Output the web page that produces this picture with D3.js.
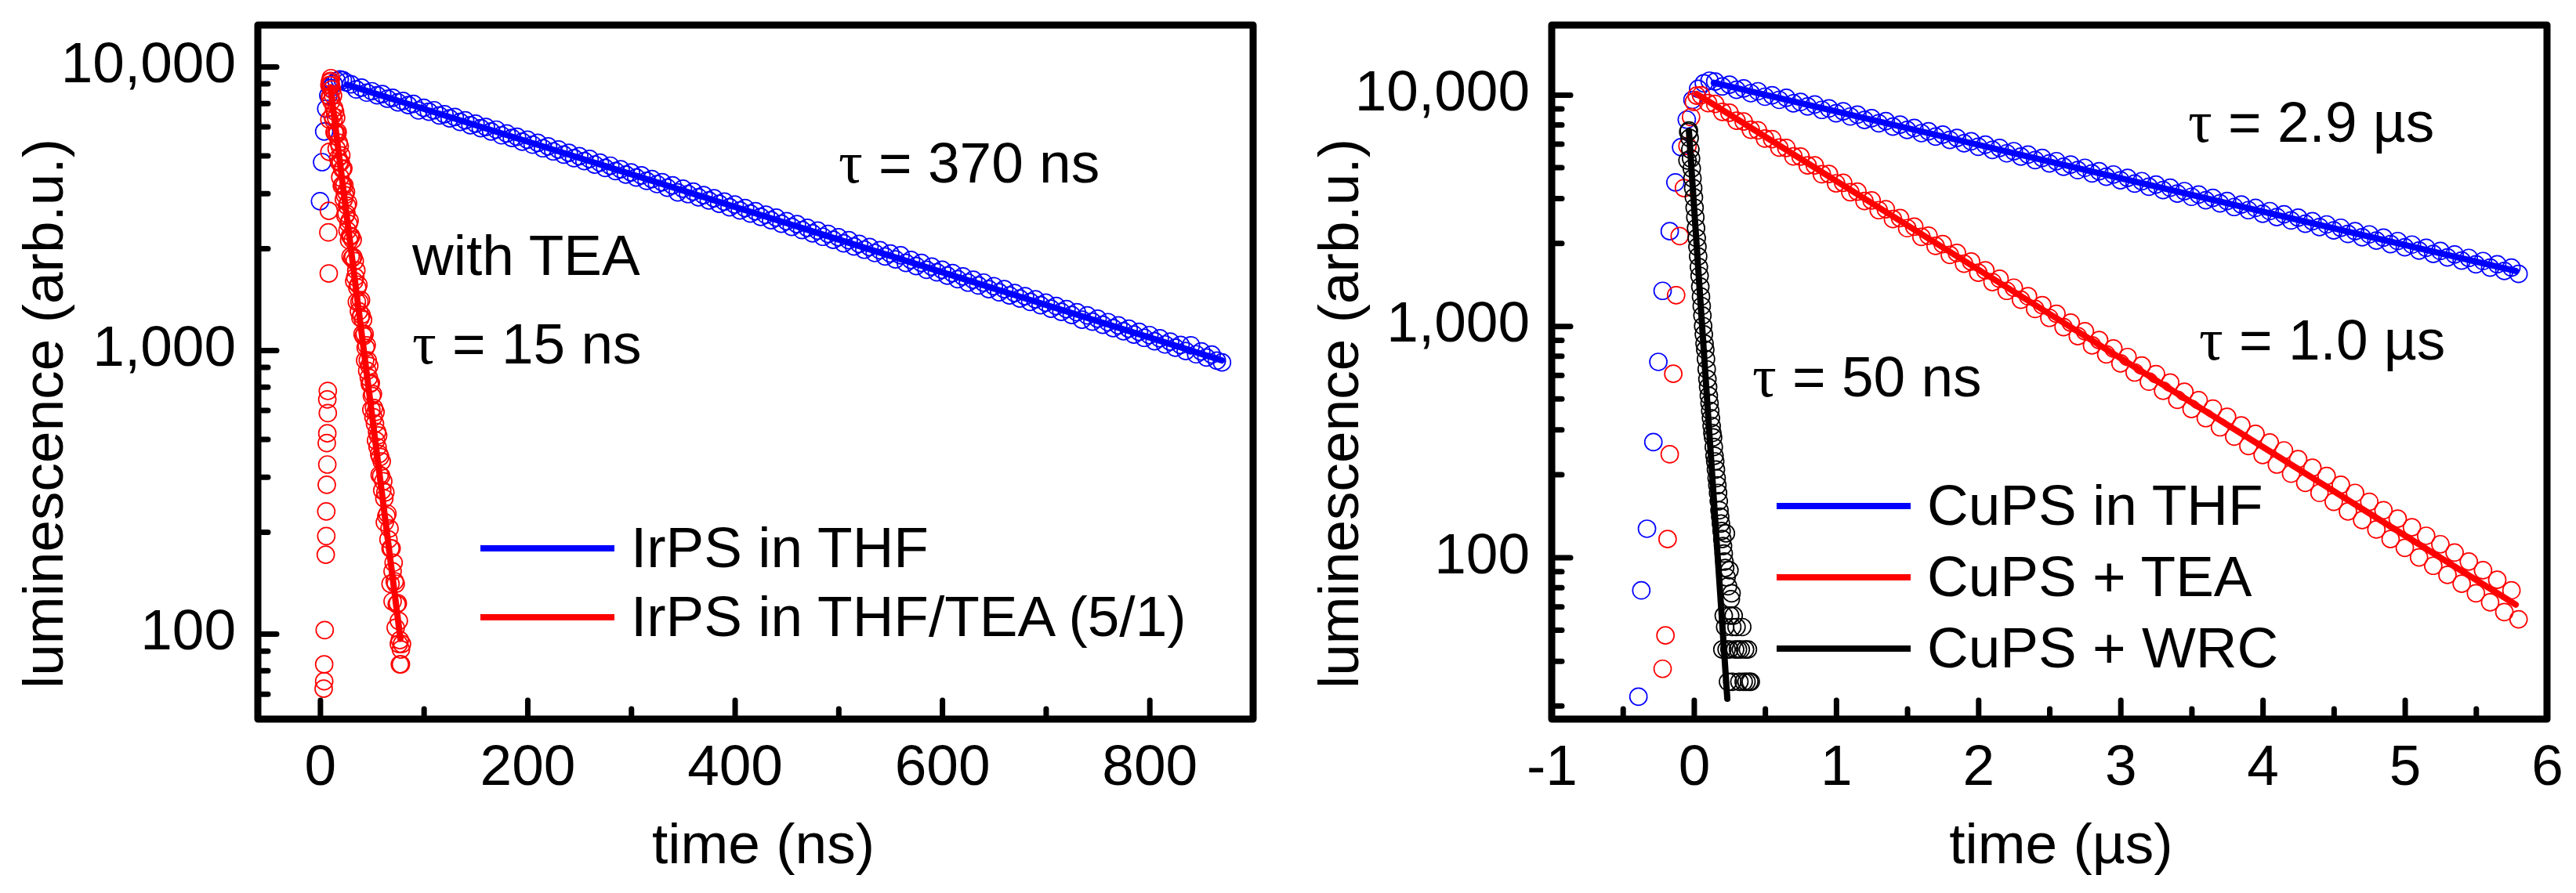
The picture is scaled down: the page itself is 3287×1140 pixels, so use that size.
<!DOCTYPE html>
<html><head><meta charset="utf-8">
<script src="https://cdn.jsdelivr.net/npm/d3@7"></script>
<style>html,body{margin:0;padding:0;background:#fff;}svg{display:block}</style>
</head><body><svg id="c" width="3287" height="1140"></svg>
<script>
// ---------------- DATA ----------------
// Left panel: time in ns, luminescence in arb.u.
const leftXTicks = [0, 200, 400, 600, 800];
const leftXMinor = [100, 300, 500, 700];
const leftYTicks = [100, 1000, 10000];
const leftYMinor = [61.4, 74.3, 87.1, 228.6, 357.1, 485.7, 614.3, 742.9, 871.4, 2286, 3571, 4857, 6143, 7429, 8714];

const irThf = [[0,3350],[2,4600],[4,5900],[6,7100],[8,7900],[10,8400],[13,8700],[16,8900],[19,9000],[22,8950],[25,8800],
[30,8650],[35,8300],[40,8420],[45,8090],[50,8180],[55,7920],[60,7990],[65,7700],[70,7760],[75,7480],[80,7560],[85,7310],[90,7380],[95,7000],[100,7150],[105,6930],[110,7010],[115,6720],[120,6790],[125,6560],[130,6640],[135,6380],[140,6460],[145,6210],[150,6290],[155,6060],[160,6120],[165,5900],[170,5990],[175,5720],[180,5810],[185,5600],[190,5650],[195,5430],[200,5520],[205,5300],[210,5380],[215,5150],[220,5230],[225,5020],[230,5100],[235,4890],[240,4960],[245,4750],[250,4830],[255,4640],[260,4720],[265,4510],[270,4580],[275,4390],[280,4470],[285,4280],[290,4340],[295,4160],[300,4230],[305,4060],[310,4130],[315,3950],[320,4010],[325,3850],[330,3910],[335,3740],[340,3810],[345,3600],[350,3710],[355,3550],[360,3620],[365,3460],[370,3520],[375,3370],[380,3430],[385,3280],[390,3340],[395,3190],[400,3260],[405,3110],[410,3170],[415,3030],[420,3090],[425,2950],[430,3000],[435,2870],[440,2930],[445,2790],[450,2850],[455,2720],[460,2780],[465,2650],[470,2700],[475,2580],[480,2640],[485,2510],[490,2570],[495,2450],[500,2500],[505,2380],[510,2440],[515,2320],[520,2370],[525,2260],[530,2310],[535,2200],[540,2250],[545,2140],[550,2190],[555,2090],[560,2160],[565,2030],[570,2080],[575,1980],[580,2030],[585,1920],[590,1970],[595,1880],[600,1920],[605,1830],[610,1870],[615,1780],[620,1820],[625,1730],[630,1770],[635,1690],[640,1730],[645,1640],[650,1680],[655,1600],[660,1640],[665,1560],[670,1590],[675,1520],[680,1550],[685,1480],[690,1510],[695,1440],[700,1470],[705,1400],[710,1430],[715,1365],[720,1395],[725,1330],[730,1360],[735,1280],[740,1325],[745,1260],[750,1290],[755,1228],[760,1255],[765,1195],[770,1222],[775,1165],[780,1190],[785,1135],[790,1160],[795,1105],[800,1130],[805,1075],[810,1100],[815,1047],[820,1072],[825,1020],[830,1043],[835,993],[840,1040],[845,967],[850,990],[855,942],[860,965],[865,918],[870,905]];
const irThfFit = [[26,8630],[870,920]];

const irTea = [[3.5,64],[4,68],[4,78],[4.5,103],[5.5,190],[6,221],[6,270],[6.5,335],[7,395],[6.5,470],[7,509],[7.5,600],[7,670],[7.5,718],[8.4,1864],[8,2600],[8.5,3100],[9,5000],[9,6500],[9.5,7800],[10,8900],[10.5,9100],
[9,8600],[9.5,8800],[10,7800],[10.5,8600],[11,7550],[11.5,8300],[12,6700],[12.5,7900],[13,6470],[13.5,7130],[14,5860],[14.5,6930],[15,5790],[15.5,6600],[16,5130],[16.5,5790],[17,5870],[17.5,4750],[18,5390],[18.5,4590],[19,5230],[19.5,4070],[20,4590],[20.5,4860],[21,3800],[21.5,4350],[22,3830],[22.5,4370],[23,3400],[23.5,3810],[24,3520],[24.5,2980],[25,3610],[25.5,3030],[26,3230],[26.5,2640],[27,3300],[27.5,2790],[28,2440],[28.5,2860],[29,2530],[29.5,2140],[30,2520],[31,2110],[31.5,2450],[32,2130],[33,1750],[33.5,2060],[34,1810],[35,1910],[35.5,1480],[36,1660],[37,1700],[37.5,1370],[38,1480],[39,1300],[39.5,1500],[40,1330],[41,1140],[41.5,1280],[42,1120],[43,1140],[43.5,920],[44,1020],[45,1040],[45.5,845],[46,920],[47,800],[47.5,880],[48,760],[49,765],[49.5,617],[50,690],[51,700],[51.5,580],[52,625],[53,550],[53.5,605],[54,480],[55,515],[55.5,455],[56,500],[57,430],[57.5,363],[58,420],[59,360],[59.5,405],[60,320],[61,345],[62,300],[62.5,247],[63,315],[64,260],[65,265],[66,215],[67,235],[68,200],[69,200],[70,166],[71,178],[72,153],[73,150],[74,127],[75,128],[76,111],[77,95],[78,88],
[77,78],[78,78],[79,92],[76,92],[73,105],[70,130],[68,150]];
const irTeaFit = [[10,8450],[77.5,96]];

// Right panel: time in µs
const rightXTicks = [-1, 0, 1, 2, 3, 4, 5, 6];
const rightXMinor = [-0.5, 0.5, 1.5, 2.5, 3.5, 4.5, 5.5];
const rightYTicks = [100, 1000, 10000];
const rightYMinor = [22.9, 35.7, 48.6, 61.4, 74.3, 87.1, 228.6, 357.1, 485.7, 614.3, 742.9, 871.4, 2286, 3571, 4857, 6143, 7429, 8714];

const cuThf = [[-0.39,25],[-0.37,72],[-0.33,133],[-0.285,315],[-0.25,700],[-0.22,1420],[-0.17,2570],[-0.13,4180],[-0.09,5930],[-0.05,7800],[-0.01,9500],[0.03,10600],[0.07,11200],[0.11,11500],
[0.15,11400],[0.2,10850],[0.25,11050],[0.3,10500],[0.35,10650],[0.4,10150],[0.45,10350],[0.5,9800],[0.55,9950],[0.6,9500],[0.65,9700],[0.7,9180],[0.75,9300],[0.8,8900],[0.85,9080],[0.9,8600],[0.95,8720],[1,8310],[1.05,8480],[1.1,8050],[1.15,8200],[1.2,7780],[1.25,7920],[1.3,7530],[1.35,7690],[1.4,7280],[1.45,7420],[1.5,7040],[1.55,7180],[1.6,6820],[1.65,6950],[1.7,6590],[1.75,6720],[1.8,6380],[1.85,6500],[1.9,6170],[1.95,6290],[2,5960],[2.05,6080],[2.1,5770],[2.15,5890],[2.2,5580],[2.25,5700],[2.3,5400],[2.35,5510],[2.4,5220],[2.45,5330],[2.5,5050],[2.55,5160],[2.6,4880],[2.65,4990],[2.7,4720],[2.75,4830],[2.8,4570],[2.85,4670],[2.9,4420],[2.95,4520],[3,4270],[3.05,4370],[3.1,4130],[3.15,4230],[3.2,4000],[3.25,4090],[3.3,3870],[3.35,3960],[3.4,3740],[3.45,3830],[3.5,3620],[3.55,3700],[3.6,3500],[3.65,3580],[3.7,3390],[3.75,3470],[3.8,3270],[3.85,3350],[3.9,3170],[3.95,3240],[4,3060],[4.05,3140],[4.1,2960],[4.15,3040],[4.2,2860],[4.25,2940],[4.3,2770],[4.35,2840],[4.4,2680],[4.45,2750],[4.5,2590],[4.55,2660],[4.6,2500],[4.65,2570],[4.7,2420],[4.75,2490],[4.8,2340],[4.85,2410],[4.9,2260],[4.95,2330],[5,2190],[5.05,2250],[5.1,2120],[5.15,2180],[5.2,2050],[5.25,2110],[5.3,1980],[5.35,2040],[5.4,1920],[5.45,1970],[5.5,1850],[5.55,1910],[5.6,1790],[5.65,1850],[5.7,1730],[5.75,1790],[5.8,1680]];
const cuThfFit = [[0.14,11270],[5.78,1730]];

const cuTea = [[-0.22,33],[-0.2,46],[-0.185,120],[-0.17,279],[-0.145,622],[-0.125,1360],[-0.1,2450],[-0.07,3950],[-0.045,6000],[-0.02,8000],[0,9300],[0.02,9900],
[0.05,9950],[0.1,9200],[0.15,9120],[0.2,8430],[0.25,8360],[0.3,7720],[0.35,7660],[0.4,7060],[0.45,7020],[0.5,6460],[0.55,6430],[0.6,5910],[0.65,5890],[0.7,5410],[0.75,5400],[0.8,4950],[0.85,4950],[0.9,4530],[0.95,4540],[1,4140],[1.05,4160],[1.1,3790],[1.15,3810],[1.2,3470],[1.25,3490],[1.3,3170],[1.35,3200],[1.4,2900],[1.45,2930],[1.5,2650],[1.55,2690],[1.6,2430],[1.65,2460],[1.7,2220],[1.75,2260],[1.8,2030],[1.85,2070],[1.9,1860],[1.95,1900],[2,1700],[2.05,1740],[2.1,1550],[2.15,1600],[2.2,1420],[2.25,1465],[2.3,1300],[2.35,1345],[2.4,1185],[2.45,1230],[2.5,1085],[2.55,1130],[2.6,990],[2.65,1035],[2.7,905],[2.75,950],[2.8,825],[2.85,870],[2.9,755],[2.95,800],[3,690],[3.05,735],[3.1,630],[3.15,675],[3.2,575],[3.25,620],[3.3,525],[3.35,570],[3.4,480],[3.45,520],[3.5,438],[3.55,478],[3.6,400],[3.65,440],[3.7,365],[3.75,405],[3.8,333],[3.85,372],[3.9,303],[3.95,342],[4,277],[4.05,314],[4.1,252],[4.15,290],[4.2,230],[4.25,266],[4.3,210],[4.35,244],[4.4,190],[4.45,225],[4.5,174],[4.55,206],[4.6,158],[4.65,190],[4.7,145],[4.75,174],[4.8,132],[4.85,160],[4.9,120],[4.95,147],[5,110],[5.05,135],[5.1,100],[5.15,124],[5.2,92],[5.25,114],[5.3,84],[5.35,105],[5.4,77],[5.45,96],[5.5,70],[5.55,88],[5.6,64],[5.65,80],[5.7,58],[5.75,72],[5.8,54]];
const cuTeaFit = [[0.02,10070],[5.78,62.5]];

const cuWrc = [[-0.045,5200],[-0.04,6900],[-0.035,7000],[-0.03,6500],[-0.025,5800],[-0.02,5300],[-0.015,4800],[-0.01,4350],[-0.005,3950],[0,3600],[0.005,3250],[0.01,2950],[0.015,2650],[0.02,2400],[0.025,2200],[0.03,2000],[0.035,1800],[0.04,1650],[0.045,1480],[0.05,1340],[0.055,1220],[0.06,1110],[0.065,1000],[0.07,920],[0.075,840],[0.08,790],[0.085,720],[0.09,650],[0.095,590],[0.1,545],[0.105,500],[0.11,465],[0.115,430],[0.12,400],[0.125,370],[0.13,345],[0.135,330],[0.14,300],[0.145,275],[0.15,260],[0.155,240],[0.16,220],[0.165,205],[0.17,190],[0.175,175],[0.18,160],[0.185,150],[0.19,140],[0.195,130],[0.2,120],[0.205,112],[0.21,104],[0.215,96],[0.22,90],[0.225,127],[0.23,82],[0.24,75],[0.25,88],[0.255,56],[0.26,66],[0.265,70],[0.27,50],[0.28,56],[0.29,40],[0.3,50],[0.31,40],[0.32,29],[0.33,40],[0.34,50],[0.35,29],[0.36,40],[0.37,29],[0.38,40],[0.39,29],[0.4,29],[0.22,50],[0.23,40],[0.24,29],[0.25,40],[0.27,29],[0.21,56],[0.2,40]];
const cuWrcFit = [[-0.035,6980],[0.235,24.5]];

// ---------------- DRAWING ----------------
const W = 3287, H = 1140;
const FONT = "'Liberation Sans', Arial, Helvetica, sans-serif";
const SERIF = "'Liberation Serif', 'Times New Roman', serif";
const FS = 73;
const svg = d3.select('#c');
svg.append('rect').attr('width', W).attr('height', H).attr('fill', '#fff');

function styleAxis(sel) {
  sel.select('.domain').remove();
  sel.selectAll('.tick line').attr('stroke', '#000').attr('stroke-width', 7).attr('stroke-linecap', 'round');
  sel.selectAll('.tick text').attr('font-family', FONT).attr('font-size', FS).attr('fill', '#000');
}

function txt(x, y, s, anchor) {
  const t = svg.append('text').attr('x', x).attr('y', y).attr('font-family', FONT)
    .attr('font-size', FS).attr('fill', '#000').attr('text-anchor', anchor || 'start');
  if (s.startsWith('τ')) {
    t.append('tspan').attr('font-family', SERIF).attr('font-size', FS * 1.05).text('τ');
    t.append('tspan').text(s.slice(1));
  } else {
    t.text(s);
  }
  return t;
}

function drawPanel(cfg) {
  const { x0, x1, y0, y1 } = cfg.frame;
  const x = d3.scaleLinear().domain(cfg.xDomain).range([x0, x1]);
  const y = d3.scaleLog().domain(cfg.yDomain).range([y1, y0]);
  const clipId = 'clip' + cfg.id;
  svg.append('clipPath').attr('id', clipId).append('rect')
    .attr('x', x0).attr('y', y0).attr('width', x1 - x0).attr('height', y1 - y0);
  const plot = svg.append('g').attr('clip-path', `url(#${clipId})`);
  const line = d3.line().x(d => x(d[0])).y(d => y(d[1]));
  cfg.series.forEach(s => {
    plot.append('g').selectAll('circle').data(s.points).join('circle')
      .attr('cx', d => x(d[0])).attr('cy', d => y(d[1])).attr('r', 11)
      .attr('fill', 'none').attr('stroke', s.color).attr('stroke-width', 1.7);
    plot.append('path').datum(s.fit).attr('d', line)
      .attr('fill', 'none').attr('stroke', s.color).attr('stroke-width', 8).attr('stroke-linecap', 'round');
  });

  // axes (ticks point inward)
  const gxMinor = svg.append('g').attr('transform', `translate(0,${y1})`)
    .call(d3.axisBottom(x).tickValues(cfg.xMinor).tickSize(-13).tickFormat(''));
  styleAxis(gxMinor);
  const gx = svg.append('g').attr('transform', `translate(0,${y1})`)
    .call(d3.axisBottom(x).tickValues(cfg.xTicks).tickSize(-24).tickPadding(32).tickFormat(d => String(d)));
  styleAxis(gx);
  const gyMinor = svg.append('g').attr('transform', `translate(${x0},0)`)
    .call(d3.axisLeft(y).tickValues(cfg.yMinor).tickSize(-13).tickFormat(''));
  styleAxis(gyMinor);
  const gy = svg.append('g').attr('transform', `translate(${x0},0)`)
    .call(d3.axisLeft(y).tickValues(cfg.yTicks).tickSize(-24).tickPadding(28).tickFormat(d3.format(',')));
  styleAxis(gy);
  gy.selectAll('.tick text').attr('dy', '0.27em');

  // frame
  svg.append('rect').attr('x', x0).attr('y', y0).attr('width', x1 - x0).attr('height', y1 - y0)
    .attr('fill', 'none').attr('stroke', '#000').attr('stroke-width', 9).attr('stroke-linejoin', 'round');

  // titles
  txt(cfg.xTitleX, 1102, cfg.xTitle, 'middle');
  svg.append('text').attr('transform', `translate(${cfg.yTitleX},528) rotate(-90)`)
    .attr('font-family', FONT).attr('font-size', FS).attr('fill', '#000')
    .attr('text-anchor', 'middle').text('luminescence (arb.u.)');

  // annotations
  cfg.notes.forEach(n => txt(n[0], n[1], n[2]));

  // legend
  cfg.legend.forEach(l => {
    svg.append('line').attr('x1', l.lx0).attr('x2', l.lx1).attr('y1', l.ly).attr('y2', l.ly)
      .attr('stroke', l.color).attr('stroke-width', 8);
    txt(l.tx, l.ly + 24, l.label);
  });
}

drawPanel({
  id: 'L',
  frame: { x0: 329, x1: 1599, y0: 32, y1: 918 },
  xDomain: [-60, 900], yDomain: [50, 14000],
  xTicks: leftXTicks, xMinor: leftXMinor, yTicks: leftYTicks, yMinor: leftYMinor,
  series: [
    { points: irThf, fit: irThfFit, color: '#0000ff' },
    { points: irTea, fit: irTeaFit, color: '#ff0000' }
  ],
  xTitle: 'time (ns)', xTitleX: 974, yTitleX: 80,
  notes: [[1070, 233, 'τ = 370 ns'], [526, 351, 'with TEA'], [526, 464, 'τ = 15 ns']],
  legend: [
    { lx0: 613, lx1: 784, ly: 700, tx: 805, color: '#0000ff', label: 'IrPS in THF' },
    { lx0: 613, lx1: 784, ly: 788, tx: 805, color: '#ff0000', label: 'IrPS in THF/TEA (5/1)' }
  ]
});

drawPanel({
  id: 'R',
  frame: { x0: 1980, x1: 3250, y0: 32, y1: 918 },
  xDomain: [-1, 6], yDomain: [20, 20000],
  xTicks: rightXTicks, xMinor: rightXMinor, yTicks: rightYTicks, yMinor: rightYMinor,
  series: [
    { points: cuThf, fit: cuThfFit, color: '#0000ff' },
    { points: cuTea, fit: cuTeaFit, color: '#ff0000' },
    { points: cuWrc, fit: cuWrcFit, color: '#000000' }
  ],
  xTitle: 'time (µs)', xTitleX: 2630, yTitleX: 1733,
  notes: [[2792, 181, 'τ = 2.9 µs'], [2806, 459, 'τ = 1.0 µs'], [2236, 506, 'τ = 50 ns']],
  legend: [
    { lx0: 2267, lx1: 2438, ly: 646, tx: 2459, color: '#0000ff', label: 'CuPS in THF' },
    { lx0: 2267, lx1: 2438, ly: 737, tx: 2459, color: '#ff0000', label: 'CuPS + TEA' },
    { lx0: 2267, lx1: 2438, ly: 828, tx: 2459, color: '#000000', label: 'CuPS + WRC' }
  ]
});
</script></body></html>
